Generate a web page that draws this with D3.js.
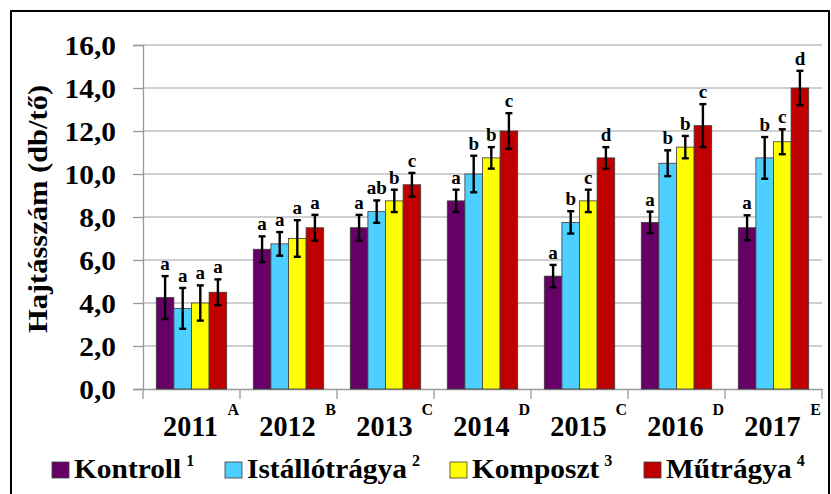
<!DOCTYPE html>
<html>
<head>
<meta charset="utf-8">
<script src="https://cdn.jsdelivr.net/npm/d3@7"></script>
<style>
  html, body { margin: 0; padding: 0; background: #fff; }
  svg { display: block; }
  text { font-family: "Liberation Serif", "Times New Roman", serif; font-weight: bold; fill: #000; }
</style>
</head>
<body>
<svg id="chart" width="831" height="494"></svg>
<script>
// ---- data ----
const years = ['2011', '2012', '2013', '2014', '2015', '2016', '2017'];
const yearLetters = ['A', 'B', 'C', 'D', 'C', 'D', 'E'];
const series = ['Kontroll', 'Istállótrágya', 'Komposzt', 'Műtrágya'];
const seriesSup = ['1', '2', '3', '4'];
const colors = ['#660066', '#4dcfff', '#ffff00', '#c00000'];

const kontroll     = [4.25, 6.5, 7.5, 8.75, 5.25, 7.75, 7.5];
const kontrollErr  = [1.0, 0.6, 0.6, 0.52, 0.52, 0.5, 0.58];
const kontrollSig  = ['a', 'a', 'a', 'a', 'a', 'a', 'a'];
const istallo      = [3.75, 6.75, 8.25, 10.0, 7.75, 10.5, 10.75];
const istalloErr   = [0.95, 0.55, 0.52, 0.85, 0.52, 0.6, 0.97];
const istalloSig   = ['a', 'a', 'ab', 'b', 'b', 'b', 'b'];
const komposzt     = [4.0, 7.0, 8.75, 10.75, 8.75, 11.25, 11.5];
const komposztErr  = [0.82, 0.85, 0.52, 0.5, 0.52, 0.52, 0.58];
const komposztSig  = ['a', 'a', 'b', 'b', 'c', 'b', 'c'];
const mutragya     = [4.5, 7.5, 9.5, 12.0, 10.75, 12.25, 14.0];
const mutragyaErr  = [0.6, 0.6, 0.55, 0.83, 0.5, 1.0, 0.8];
const mutragyaSig  = ['a', 'a', 'c', 'c', 'd', 'c', 'd'];
const yTicks = [0, 2, 4, 6, 8, 10, 12, 14, 16];

const values = [kontroll, istallo, komposzt, mutragya];
const errs = [kontrollErr, istalloErr, komposztErr, mutragyaErr];
const sigs = [kontrollSig, istalloSig, komposztSig, mutragyaSig];

const rows = [];
years.forEach((yr, i) => series.forEach((s, j) => rows.push({
  year: yr, series: s, v: values[j][i], e: errs[j][i], sig: sigs[j][i], color: colors[j]
})));

// ---- layout ----
const svg = d3.select('#chart');
const plot = { left: 143, right: 822, top: 45, bottom: 389 };
const SX = 1.05;

const y = d3.scaleLinear().domain([0, 16]).range([plot.bottom, plot.top]);
const x0 = d3.scaleBand().domain(years).range([plot.left, plot.right]).paddingInner(0).paddingOuter(0);
const x1 = d3.scaleBand().domain(series).range([0, x0.bandwidth()]).paddingInner(0).paddingOuter(0.755);

function stext(g, x, y, str, size, sx, anchor) {
  return g.append('text')
    .attr('transform', `translate(${x},${y}) scale(${sx},1)`)
    .attr('text-anchor', anchor || 'start')
    .style('font-size', size + 'px')
    .text(str);
}

// outer border
svg.append('rect').attr('x', 11).attr('y', 11).attr('width', 818).attr('height', 520)
  .attr('fill', 'none').attr('stroke', '#000').attr('stroke-width', 2);

// gridlines
svg.append('g').selectAll('line').data(yTicks.filter(d => d > 0)).join('line')
  .attr('x1', plot.left).attr('x2', plot.right)
  .attr('y1', d => y(d)).attr('y2', d => y(d))
  .attr('stroke', '#cfcfcf').attr('stroke-width', 2);

// y axis
const yAxis = svg.append('g').attr('transform', `translate(${plot.left},0)`)
  .call(d3.axisLeft(y).tickValues(yTicks).tickSize(10).tickFormat(''));
yAxis.select('.domain').attr('stroke', '#999').attr('stroke-width', 1.3);
yAxis.selectAll('.tick line').attr('stroke', '#999').attr('stroke-width', 1.3);

const fmt = d3.format('.1f');
const yl = svg.append('g');
yTicks.forEach(t => stext(yl, 116, y(t) + 9.5, fmt(t).replace('.', ','), 28, SX, 'end'));

// x axis
const xAxis = svg.append('g').attr('transform', `translate(0,${plot.bottom})`)
  .call(d3.axisBottom(x0).tickSize(0).tickFormat(''));
xAxis.select('.domain').attr('stroke', '#999').attr('stroke-width', 1.3);
xAxis.selectAll('.tick').remove();
const bounds = years.map(d => x0(d)).concat([x0(years[years.length - 1]) + x0.bandwidth()]);
xAxis.selectAll('line.sep').data(bounds).join('line').attr('class', 'sep')
  .attr('x1', d => d).attr('x2', d => d).attr('y1', 0).attr('y2', 10)
  .attr('stroke', '#999').attr('stroke-width', 1.3);

const xl = svg.append('g');
years.forEach((yr, i) => {
  stext(xl, x0(yr) + x0.bandwidth() / 2 - 1, 436, yr, 30, 0.94, 'middle');
  stext(xl, x0(yr) + x0.bandwidth() - 1, 415, yearLetters[i], 16, 1.0, 'end');
});

// bars
const bars = svg.append('g');
bars.selectAll('rect').data(rows).join('rect')
  .attr('x', d => x0(d.year) + x1(d.series))
  .attr('y', d => y(d.v))
  .attr('width', x1.bandwidth())
  .attr('height', d => y(0) - y(d.v))
  .attr('fill', d => d.color)
  .attr('stroke', '#3a3a3a').attr('stroke-width', 0.8);

// error bars
const eb = svg.append('g').attr('stroke', '#000').attr('stroke-width', 2.4);
rows.forEach(d => {
  const cx = x0(d.year) + x1(d.series) + x1.bandwidth() / 2;
  eb.append('line').attr('x1', cx).attr('x2', cx).attr('y1', y(d.v + d.e)).attr('y2', y(d.v - d.e));
  eb.append('line').attr('x1', cx - 3.5).attr('x2', cx + 3.5).attr('y1', y(d.v + d.e)).attr('y2', y(d.v + d.e));
  eb.append('line').attr('x1', cx - 3.5).attr('x2', cx + 3.5).attr('y1', y(d.v - d.e)).attr('y2', y(d.v - d.e));
});

// significance letters
const sl = svg.append('g');
rows.forEach(d => {
  const cx = x0(d.year) + x1(d.series) + x1.bandwidth() / 2;
  stext(sl, cx, y(d.v + d.e) - 6, d.sig, 19, 1.0, 'middle');
});

// legend
const lg = svg.append('g');
const legX = [52, 225, 450, 644];
series.forEach((s, j) => {
  lg.append('rect').attr('x', legX[j]).attr('y', 462).attr('width', 17).attr('height', 16)
    .attr('fill', colors[j]).attr('stroke', '#3a3a3a').attr('stroke-width', 0.8);
  const t = stext(lg, legX[j] + 22, 478, s, 28, SX, 'start');
  const w = t.node().getComputedTextLength() * SX;
  stext(lg, legX[j] + 22 + w + 5, 466, seriesSup[j], 16, 1.0, 'start');
});

// y title
svg.append('text')
  .attr('transform', 'translate(47,209) rotate(-90) scale(1.09,1)')
  .attr('text-anchor', 'middle')
  .style('font-size', '28px')
  .text('Hajtásszám (db/tő)');
</script>
</body>
</html>
